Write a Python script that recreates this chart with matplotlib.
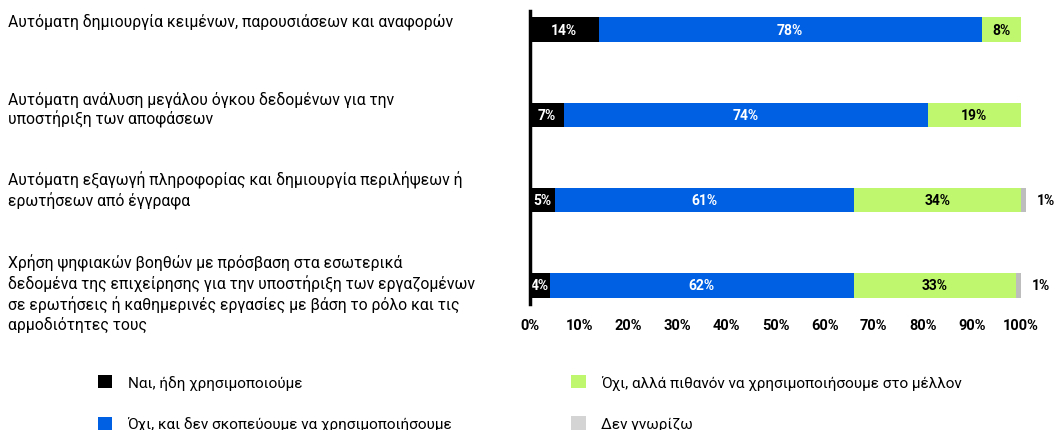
import numpy as np
import matplotlib.pyplot as plt
from matplotlib.patches import Patch
from matplotlib.transforms import blended_transform_factory

plt.rcParams["font.family"] = ["Roboto", "DejaVu Sans"]

categories = [
    "Αυτόματη δημιουργία κειμένων, παρουσιάσεων και αναφορών",
    "Αυτόματη ανάλυση μεγάλου όγκου δεδομένων για την\nυποστήριξη των αποφάσεων",
    "Αυτόματη εξαγωγή πληροφορίας και δημιουργία περιλήψεων ή\nερωτήσεων από έγγραφα",
    "Χρήση ψηφιακών βοηθών με πρόσβαση στα εσωτερικά\nδεδομένα της επιχείρησης για την υποστήριξη των εργαζομένων\n"
    "σε ερωτήσεις ή καθημερινές εργασίες με βάση το ρόλο και τις\nαρμοδιότητες τους",
]
series_names = [
    "Ναι, ήδη χρησιμοποιούμε",
    "Όχι, και δεν σκοπεύουμε να χρησιμοποιήσουμε",
    "Όχι, αλλά πιθανόν να χρησιμοποιήσουμε στο μέλλον",
    "Δεν γνωρίζω",
]
yes_now = [14, 7, 5, 4]
no_never = [78, 74, 61, 62]
maybe_future = [8, 19, 34, 33]
dont_know = [0, 0, 1, 1]
x_ticks = [0, 10, 20, 30, 40, 50, 60, 70, 80, 90, 100]

colors = ["#000000", "#0060E3", "#BFF76E", "#BDBDBD"]
legend_colors = ["#000000", "#0060E3", "#BFF76E", "#D4D4D4"]
text_colors = ["white", "white", "black", "black"]
# small vertical nudges of the category texts (row units)
label_nudge = [-0.1, -0.07, -0.12, 0.09]

W, H = 1056, 431
fig = plt.figure(figsize=(W / 100, H / 100), dpi=100)
ax = fig.add_axes([530 / W, 1 - 305 / H, (1021 - 530) / W, (305 - 12) / H])

y = np.arange(len(categories))
data = [yes_now, no_never, maybe_future, dont_know]
left = np.zeros(len(categories))
for k, vals in enumerate(data):
    vals = np.array(vals, dtype=float)
    bars = ax.barh(y, vals, left=left, height=0.29, color=colors[k], zorder=2)
    for b in bars:
        b.set_clip_on(False)
    for i, v in enumerate(vals):
        if v <= 0:
            continue
        if k == 3:
            ax.text(left[i] + v + 2.2, y[i], f"{v:.0f}%", ha="left", va="center",
                    fontsize=10, fontweight="bold", color="black")
        else:
            ax.text(left[i] + v / 2, y[i], f"{v:.0f}%", ha="center", va="center",
                    fontsize=10, fontweight="bold", color=text_colors[k])
    left += vals

ax.set_xlim(0, 100)
ax.set_ylim(3.22, -0.22)
ax.set_yticks([])
ax.set_xticks(x_ticks)
ax.set_xticklabels([f"{t}%" for t in x_ticks], fontsize=10.5, fontweight="bold")
ax.tick_params(axis="x", length=0, pad=10)
for s in ["top", "right", "bottom"]:
    ax.spines[s].set_visible(False)
ax.spines["left"].set_linewidth(2.5)
ax.spines["left"].set_zorder(3)

trans = blended_transform_factory(fig.transFigure, ax.transData)
for i, cat in enumerate(categories):
    ax.text(8 / W, y[i] + label_nudge[i], cat, transform=trans, ha="left",
            va="center", fontsize=11.3, linespacing=1.25)

handles = [Patch(facecolor=c, edgecolor="none") for c in legend_colors]
fig.legend(handles, series_names, ncol=2, loc="upper left",
           bbox_to_anchor=(84 / W, 1 - 362 / H), frameon=False,
           handlelength=0.95, handleheight=0.95, handletextpad=1.0,
           labelspacing=1.75, columnspacing=7.8, fontsize=11)

fig.savefig("out.png", dpi=100)
